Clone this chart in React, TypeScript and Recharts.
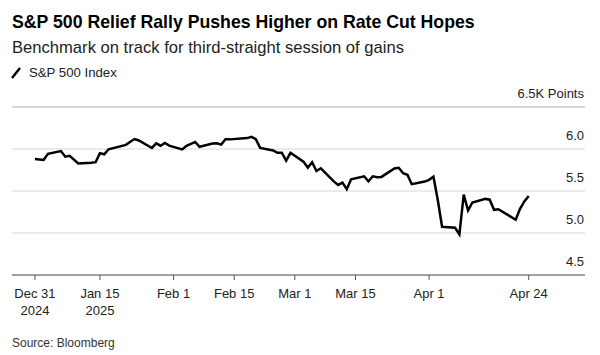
import React from "react";
import { LineChart, Line, XAxis, YAxis, CartesianGrid, ReferenceLine } from "recharts";

const dates = [
  "2024-12-31","2025-01-02","2025-01-03","2025-01-06","2025-01-07","2025-01-08","2025-01-10","2025-01-13","2025-01-14","2025-01-15",
  "2025-01-16","2025-01-17","2025-01-21","2025-01-22","2025-01-23","2025-01-24","2025-01-27","2025-01-28","2025-01-29","2025-01-30",
  "2025-01-31","2025-02-03","2025-02-04","2025-02-05","2025-02-06","2025-02-07","2025-02-10","2025-02-11","2025-02-12","2025-02-13",
  "2025-02-14","2025-02-18","2025-02-19","2025-02-20","2025-02-21","2025-02-24","2025-02-25","2025-02-26","2025-02-27","2025-02-28",
  "2025-03-03","2025-03-04","2025-03-05","2025-03-06","2025-03-07","2025-03-10","2025-03-11","2025-03-12","2025-03-13","2025-03-14",
  "2025-03-17","2025-03-18","2025-03-19","2025-03-20","2025-03-21","2025-03-24","2025-03-25","2025-03-26","2025-03-27","2025-03-28",
  "2025-03-31","2025-04-01","2025-04-02","2025-04-03","2025-04-04","2025-04-07","2025-04-08","2025-04-09","2025-04-10","2025-04-11",
  "2025-04-14","2025-04-15","2025-04-16","2025-04-17","2025-04-21","2025-04-22","2025-04-23","2025-04-24",
];

const spx = [
  5881.6,5868.6,5942.5,5975.4,5909.0,5918.3,5827.0,5836.2,5842.9,5949.9,
  5937.3,5996.7,6049.2,6086.4,6118.7,6101.2,6012.3,6067.7,6039.3,6071.2,
  6040.5,5994.6,6037.9,6061.5,6083.6,6026.0,6066.4,6068.5,6052.0,6115.1,
  6114.6,6129.6,6144.2,6117.5,6013.1,5983.3,5955.3,5956.1,5861.6,5954.5,
  5849.7,5778.2,5842.6,5738.5,5770.2,5614.6,5572.1,5599.3,5521.5,5638.9,
  5675.1,5614.7,5675.3,5662.9,5667.6,5767.6,5776.7,5712.2,5693.3,5580.9,
  5611.9,5633.1,5671.0,5396.5,5074.1,5062.3,4982.8,5456.9,5268.1,5363.4,
  5406.0,5396.6,5275.7,5282.7,5158.2,5287.8,5375.9,5440.0,
];

const xTickDates = ["2024-12-31","2025-01-15","2025-02-01","2025-02-15","2025-03-01","2025-03-15","2025-04-01","2025-04-24"];
const xTickLabels = [["Dec 31","2024"],["Jan 15","2025"],["Feb 1"],["Feb 15"],["Mar 1"],["Mar 15"],["Apr 1"],["Apr 24"]];
const yTicks = [4.5, 5.0, 5.5, 6.0, 6.5];
const yTickLabels = ["4.5", "5.0", "5.5", "6.0", "6.5K Points"];

const DAY = 86400000;
const origin = Date.parse(dates[0] + "T00:00:00Z");
const dayIndex = (s: string) => Math.round((Date.parse(s + "T00:00:00Z") - origin) / DAY);

const data = dates.map((d, i) => ({ d: dayIndex(d), v: spx[i] / 1000 }));
const xTicks = xTickDates.map(dayIndex);

const W = 600;
const H = 355;
const M = { top: 107, right: 15, bottom: 40, left: 12 };
const PLOT_RIGHT = W - M.right - 1;
const FONT = '"Liberation Sans", Arial, Helvetica, sans-serif';
const GRID = "#d6d6d6";

const XTick = (props: any) => {
  const { x, y, payload } = props;
  const idx = xTicks.indexOf(payload.value);
  const lines = idx >= 0 ? xTickLabels[idx] : [String(payload.value)];
  return (
    <text x={x} y={y + 16} textAnchor="middle" fontSize={13} fill="#222" fontFamily={FONT}>
      {lines.map((l, i) => (
        <tspan key={i} x={x} dy={i === 0 ? 0 : 17}>{l}</tspan>
      ))}
    </text>
  );
};

const YTick = (props: any) => {
  const { y, payload } = props;
  const idx = yTicks.indexOf(payload.value);
  const label = idx >= 0 ? yTickLabels[idx] : String(payload.value);
  return (
    <g>
      <text x={PLOT_RIGHT} y={y - 9} textAnchor="end" fontSize={13} fill="#222" fontFamily={FONT}>
        {label}
      </text>
    </g>
  );
};

export default function App() {
  return (
    <div style={{ position: "absolute", left: 0, top: 0, width: W, height: H, background: "#fff", overflow: "hidden" }}>
      <LineChart width={W} height={H} data={data} margin={M}>
        <CartesianGrid horizontal vertical={false} stroke={GRID} strokeWidth={1} />
        <ReferenceLine y={yTicks[yTicks.length - 1]} stroke={GRID} strokeWidth={2} ifOverflow="extendDomain" />
        <XAxis
          dataKey="d"
          type="number"
          domain={[-5.3, 127]}
          ticks={xTicks}
          tick={<XTick />}
          tickSize={5}
          tickMargin={2}
          height={40}
          axisLine={{ stroke: "#555", strokeWidth: 1 }}
          tickLine={{ stroke: "#555", strokeWidth: 1 }}
          interval={0}
        />
        <YAxis
          orientation="right"
          mirror
          domain={[4.5, 6.5]}
          ticks={yTicks}
          width={1}
          axisLine={false}
          tickLine={false}
          tick={YTick}
          interval={0}
        />
        <Line
          type="linear"
          dataKey="v"
          stroke="#000"
          strokeWidth={2.5}
          dot={false}
          isAnimationActive={false}
        />
      </LineChart>
      <svg width={W} height={H} style={{ position: "absolute", left: 0, top: 0, pointerEvents: "none" }}>
        <text x={12} y={28} fontSize={17.7} fontWeight="bold" fill="#000" fontFamily={FONT}>
          S&amp;P 500 Relief Rally Pushes Higher on Rate Cut Hopes
        </text>
        <text x={12} y={53} fontSize={16.6} fill="#222" fontFamily={FONT}>
          Benchmark on track for third-straight session of gains
        </text>
        <line x1={12} y1={78} x2={20} y2={68} stroke="#000" strokeWidth={2.5} />
        <text x={29} y={77} fontSize={13.2} fill="#222" fontFamily={FONT}>
          S&amp;P 500 Index
        </text>
        <text x={12} y={347} fontSize={12} fill="#333" fontFamily={FONT}>
          Source: Bloomberg
        </text>
      </svg>
    </div>
  );
}
